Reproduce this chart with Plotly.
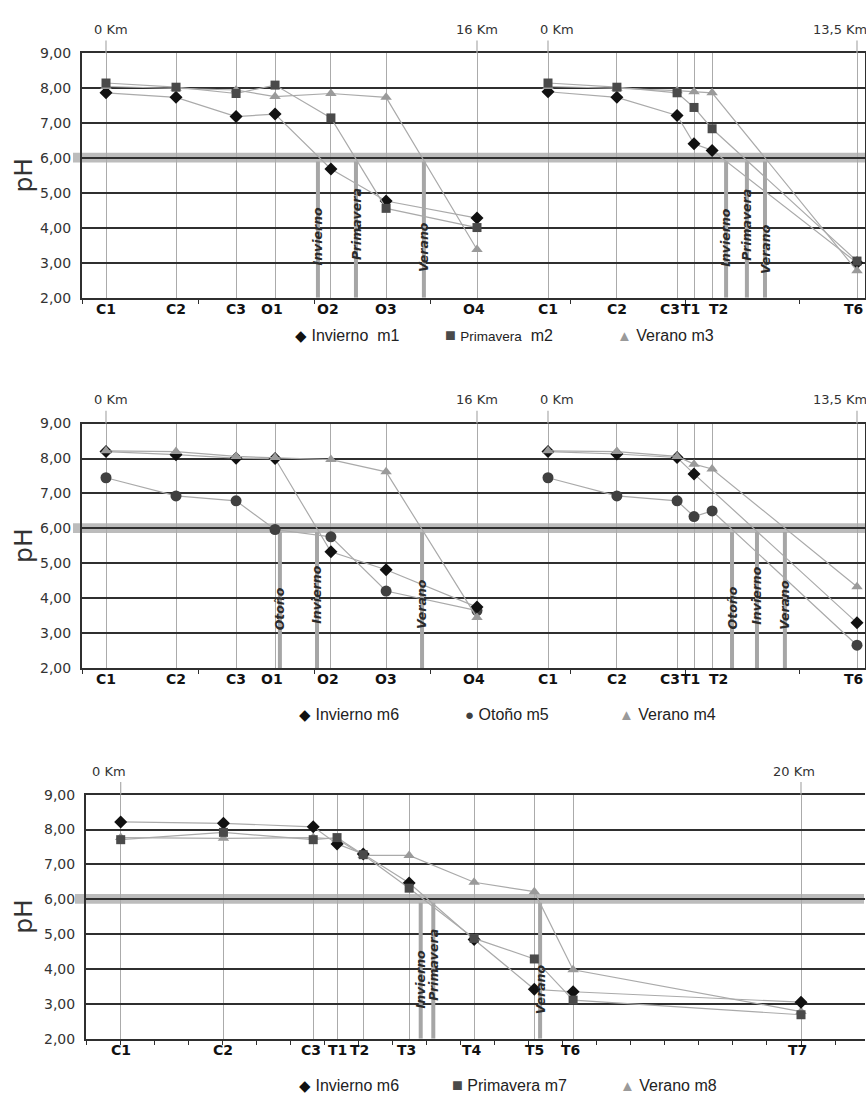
import plotly.graph_objects as go

# ---------------- data ----------------
# Panel 1 & 2, left block (stations C1..O4, 0-16 km)
st_left = ["C1", "C2", "C3", "O1", "O2", "O3", "O4"]
km_left = [0, 3.02, 5.61, 7.29, 9.70, 12.08, 16]
# Panel 1 & 2, right block (stations C1..T6, 0-13,5 km)
st_right = ["C1", "C2", "C3", "T1", "T2", "T6"]
km_right = [0, 3.01, 5.64, 6.38, 7.17, 13.5]
# Panel 3 (stations C1..T7, 0-20 km)
st_bottom = ["C1", "C2", "C3", "T1", "T2", "T3", "T4", "T5", "T6", "T7"]
km_bottom = [0, 3.02, 5.66, 6.36, 7.13, 8.48, 10.39, 12.16, 13.30, 20]

# Panel 1
p1L_invierno_m1 = [7.87, 7.74, 7.19, 7.26, 5.69, 4.77, 4.28]
p1L_primavera_m2 = [8.15, 8.03, 7.85, 8.09, 7.15, 4.56, 4.01]
p1L_verano_m3 = [8.05, 8.00, 7.95, 7.76, 7.85, 7.74, 3.38]
p1R_invierno_m1 = [7.90, 7.74, 7.22, 6.41, 6.22, 3.00]
p1R_primavera_m2 = [8.15, 8.03, 7.87, 7.45, 6.84, 3.05]
p1R_verano_m3 = [8.05, 8.00, 7.93, 7.90, 7.87, 2.77]
# Panel 2
p2L_invierno_m6 = [8.20, 8.11, 8.01, 8.00, 5.33, 4.82, 3.75]
p2L_otono_m5 = [7.45, 6.93, 6.79, 5.97, 5.76, 4.21, 3.65]
p2L_verano_m4 = [8.22, 8.20, 8.06, 8.03, 7.97, 7.62, 3.45]
p2R_invierno_m6 = [8.20, 8.13, 8.03, 7.56, None, 3.30]
p2R_otono_m5 = [7.45, 6.93, 6.79, 6.34, 6.50, 2.66]
p2R_verano_m4 = [8.22, 8.20, 8.06, 7.84, 7.70, 4.33]
# Panel 3
p3_invierno_m6 = [8.22, 8.18, 8.08, 7.59, 7.30, 6.47, 4.85, 3.42, 3.35, 3.05]
p3_primavera_m7 = [7.71, 7.92, 7.71, 7.77, 7.28, 6.32, 4.88, 4.29, 3.11, 2.69]
p3_verano_m8 = [7.77, 7.75, 7.77, 7.73, 7.26, 7.26, 6.49, 6.22, 3.98, 2.78]

# pH 6 threshold crossings (km) and their season names
p1L_cross_names = ["Invierno", "Primavera", "Verano"]
p1L_cross_km = [9.14, 10.78, 13.71]
p1R_cross_names = ["Invierno", "Primavera", "Verano"]
p1R_cross_km = [7.78, 8.69, 9.48]
p2L_cross_names = ["Otoño", "Invierno", "Verano"]
p2L_cross_km = [7.50, 9.10, 13.63]
p2R_cross_names = ["Otoño", "Invierno", "Verano"]
p2R_cross_km = [8.04, 9.13, 10.35]
p3_cross_names = ["Invierno", "Primavera", "Verano"]
p3_cross_km = [8.82, 9.19, 12.33]

threshold_ph = 6
y_ticks = [2, 3, 4, 5, 6, 7, 8, 9]

# ---------------- styles ----------------
W, H = 866, 1102
FRAME = "#2f2f2f"
VGRID = "#ababab"
LINE = "#aaaaaa"
BAR = "#a6a6a6"
BAND = "#bcbcbc"
FONT = "DejaVu Sans"
STY = {
    "Invierno": dict(symbol="diamond", color="#111111", size=10),
    "Primavera": dict(symbol="square", color="#4a4a4a", size=9),
    "Verano": dict(symbol="triangle-up", color="#9a9a9a", size=10),
    "Otoño": dict(symbol="circle", color="#404040", size=11),
}
# small horizontal nudges (px) of station labels, as in the original
LABEL_SHIFT_LEFT = {"O1": -3, "O2": -3, "O4": -3}
LABEL_SHIFT_RIGHT = {"C3": -7, "T1": -4, "T2": 6, "T6": -4}
LABEL_SHIFT_BOTTOM = {"C3": -2, "T2": -4, "T3": -3, "T4": -2, "T6": -3, "T7": -4}


def px_x(p):
    return p / W


def px_y(p):
    return 1 - p / H


fig = go.Figure()
layout = dict(
    width=W, height=H, autosize=False,
    margin=dict(l=0, r=0, t=0, b=0),
    paper_bgcolor="white", plot_bgcolor="rgba(0,0,0,0)",
    separators=",.", showlegend=False,
)
shapes = []
annotations = []


def add_axes(idx, dom_px, ytop, ybot, rng, km, names, minor_vals, left_side, shifts):
    xk = "xaxis" if idx == 1 else f"xaxis{idx}"
    yk = "yaxis" if idx == 1 else f"yaxis{idx}"
    xr = "x" if idx == 1 else f"x{idx}"
    yr = "y" if idx == 1 else f"y{idx}"
    layout[xk] = dict(
        domain=[px_x(dom_px[0]), px_x(dom_px[1])], range=rng, anchor=yr,
        tickmode="array", tickvals=km, showticklabels=False,
        ticks="", showgrid=True, gridcolor=VGRID, gridwidth=1.2,
        showline=True, mirror=True, linecolor=FRAME, linewidth=2,
        zeroline=False,
        minor=dict(tickmode="array", tickvals=minor_vals, ticks="outside",
                   ticklen=4, tickwidth=1.2, tickcolor=FRAME, showgrid=False),
    )
    ydict = dict(
        domain=[px_y(ybot), px_y(ytop)], range=[2, 9], anchor=xr,
        tickmode="array", tickvals=y_ticks, tickformat=".2f",
        showgrid=True, gridcolor=FRAME, gridwidth=1.8,
        showline=True, linecolor=FRAME, linewidth=2, zeroline=False,
        ticks="", tickfont=dict(family=FONT, size=14, color="#333"),
        ticklabelstandoff=6,
    )
    if not left_side:
        ydict.update(side="right", showticklabels=False)
    layout[yk] = ydict
    fh = ybot - ytop
    for k, n in zip(km, names):
        annotations.append(dict(
            xref=xr, yref=f"{yr} domain", x=k, y=-11 / fh, xanchor="center",
            yanchor="middle", xshift=shifts.get(n, 0), text=n, showarrow=False,
            font=dict(family=FONT, size=14, color="#111", weight="bold")))
    return xr, yr


def add_series(xr, yr, km, vals, season):
    s = STY[season]
    fig.add_trace(go.Scatter(
        x=km, y=vals, xaxis=xr, yaxis=yr, mode="lines+markers",
        connectgaps=True, cliponaxis=False, name=season,
        line=dict(color=LINE, width=1.2),
        marker=dict(symbol=s["symbol"], color=s["color"], size=s["size"],
                    line=dict(width=0)),
    ))


def add_crossings(xr, yr, names, kms, label_y):
    for n, k, ly in zip(names, kms, label_y):
        shapes.append(dict(type="line", xref=xr, yref=yr, x0=k, x1=k, y0=2,
                           y1=threshold_ph - 0.1, layer="between",
                           line=dict(color=BAR, width=4)))
        annotations.append(dict(
            xref=xr, yref=yr, x=k, y=ly, xanchor="center", yanchor="bottom",
            text=n, textangle=-90, showarrow=False,
            font=dict(family=FONT, size=12.5, color="#2a2a2a", style="italic",
                      weight="bold")))


def add_band(yr, x0px, x1px):
    shapes.append(dict(type="rect", xref="paper", yref=yr,
                       x0=px_x(x0px), x1=px_x(x1px), y0=threshold_ph - 0.13,
                       y1=threshold_ph + 0.15, layer="below",
                       fillcolor=BAND, line=dict(width=0)))


def add_km_label(xr, yr, km, text, dx, frame_h):
    shapes.append(dict(type="line", xref=xr, yref=f"{yr} domain", x0=km, x1=km,
                       y0=1, y1=1 + 13 / frame_h, line=dict(color=VGRID, width=1.2)))
    annotations.append(dict(xref=xr, yref=f"{yr} domain", x=km, y=1 + 24 / frame_h,
                            xanchor="center", yanchor="middle", xshift=dx,
                            text=text, showarrow=False,
                            font=dict(family=FONT, size=13, color="#333")))


def add_ph_title(ytop, ybot):
    annotations.append(dict(xref="paper", yref="paper", x=px_x(24),
                            y=px_y((ytop + ybot) / 2), xanchor="center",
                            yanchor="middle", text="pH", textangle=-90,
                            showarrow=False,
                            font=dict(family=FONT, size=25, color="#333")))


def add_legend(items, ypx):
    for xpx, season, label in items:
        s = STY[season]
        glyph = {"diamond": "◆", "square": "■", "triangle-up": "▲",
                 "circle": "●"}[s["symbol"]]
        gsize = 18 if glyph == "■" else 15
        annotations.append(dict(
            xref="paper", yref="paper", x=px_x(xpx), y=px_y(ypx),
            xanchor="left", yanchor="middle", showarrow=False,
            text=f'<span style="color:{s["color"]};font-size:{gsize}px">{glyph}</span> {label}',
            font=dict(family="Liberation Sans", size=16, color="#222")))


# ---------------- panel 1 ----------------
T1, B1 = 46, 294
sL = (477 - 106) / 16
sR = (857 - 548) / 13.5
rngL = [(82 - 106) / sL, (512 - 106) / sL]
rngR = [(512 - 548) / sR, (865 - 548) / sR]
x1r, y1r = add_axes(1, (82, 512), T1, B1, rngL, km_left, st_left, [-1, 4, 9, 14], True,
                    LABEL_SHIFT_LEFT)
x2r, y2r = add_axes(2, (512, 865), T1, B1, rngR, km_right, st_right, [1, 6, 11], False,
                    LABEL_SHIFT_RIGHT)
add_series(x1r, y1r, km_left, p1L_invierno_m1, "Invierno")
add_series(x1r, y1r, km_left, p1L_verano_m3, "Verano")
add_series(x1r, y1r, km_left, p1L_primavera_m2, "Primavera")
add_series(x2r, y2r, km_right, p1R_invierno_m1, "Invierno")
add_series(x2r, y2r, km_right, p1R_verano_m3, "Verano")
add_series(x2r, y2r, km_right, p1R_primavera_m2, "Primavera")
add_band(y1r, 73, 866)
add_crossings(x1r, y1r, p1L_cross_names, p1L_cross_km, [2.88, 3.02, 2.68])
add_crossings(x2r, y2r, p1R_cross_names, p1R_cross_km, [2.82, 3.0, 2.62])
fh = B1 - T1
add_km_label(x1r, y1r, km_left[0], "0 Km", 5, fh)
add_km_label(x1r, y1r, km_left[-1], "16 Km", 0, fh)
add_km_label(x2r, y2r, km_right[0], "0 Km", 9, fh)
add_km_label(x2r, y2r, km_right[-1], "13,5 Km", -17, fh)
add_ph_title(T1, B1)
add_legend([(293, "Invierno", "Invierno&nbsp; m1"),
            (443, "Primavera", '<span style="font-size:13.5px">Primavera</span>&nbsp; m2'),
            (615, "Verano", "Verano m3")], 332)

# ---------------- panel 2 ----------------
T2, B2 = 421.7, 670
x3r, y3r = add_axes(3, (82, 512), T2, B2, rngL, km_left, st_left, [-1, 4, 9, 14], True,
                    LABEL_SHIFT_LEFT)
x4r, y4r = add_axes(4, (512, 865), T2, B2, rngR, km_right, st_right, [1, 6, 11], False,
                    LABEL_SHIFT_RIGHT)
add_series(x3r, y3r, km_left, p2L_otono_m5, "Otoño")
add_series(x3r, y3r, km_left, p2L_invierno_m6, "Invierno")
add_series(x3r, y3r, km_left, p2L_verano_m4, "Verano")
add_series(x4r, y4r, km_right, p2R_otono_m5, "Otoño")
add_series(x4r, y4r, km_right, p2R_invierno_m6, "Invierno")
add_series(x4r, y4r, km_right, p2R_verano_m4, "Verano")
add_band(y3r, 73, 866)
add_crossings(x3r, y3r, p2L_cross_names, p2L_cross_km, [3.04, 3.2, 3.07])
add_crossings(x4r, y4r, p2R_cross_names, p2R_cross_km, [3.04, 3.2, 3.04])
fh = B2 - T2
add_km_label(x3r, y3r, km_left[0], "0 Km", 5, fh)
add_km_label(x3r, y3r, km_left[-1], "16 Km", 0, fh)
add_km_label(x4r, y4r, km_right[0], "0 Km", 9, fh)
add_km_label(x4r, y4r, km_right[-1], "13,5 Km", -17, fh)
add_ph_title(T2, B2)
add_legend([(297, "Invierno", "Invierno m6"),
            (463, "Otoño", "Otoño m5"),
            (617, "Verano", "Verano m4")], 717)

# ---------------- panel 3 ----------------
T3, B3 = 798.3, 1046
sB = (801 - 120.7) / 20
rngB = [(86 - 120.7) / sB, (865 - 120.7) / sB]
x5r, y5r = add_axes(5, (86, 865), T3, B3, rngB, km_bottom, st_bottom,
                    list(range(-1, 22)), True, LABEL_SHIFT_BOTTOM)
add_series(x5r, y5r, km_bottom, p3_verano_m8, "Verano")
add_series(x5r, y5r, km_bottom, p3_invierno_m6, "Invierno")
add_series(x5r, y5r, km_bottom, p3_primavera_m7, "Primavera")
add_band(y5r, 75, 864)
add_crossings(x5r, y5r, p3_cross_names, p3_cross_km, [2.82, 3.04, 2.65])
fh = B3 - T3
add_km_label(x5r, y5r, km_bottom[0], "0 Km", -12, fh)
add_km_label(x5r, y5r, km_bottom[-1], "20 Km", -7, fh)
add_ph_title(T3, B3)
add_legend([(297, "Invierno", "Invierno m6"),
            (450, "Primavera", "Primavera m7"),
            (618, "Verano", "Verano m8")], 1093)

layout["shapes"] = shapes
layout["annotations"] = annotations
fig.update_layout(**layout)
fig.write_html(
    "out.html",
    config={"displayModeBar": False},
    post_script="document.body.style.margin='0px';document.body.style.overflow='hidden';",
)
